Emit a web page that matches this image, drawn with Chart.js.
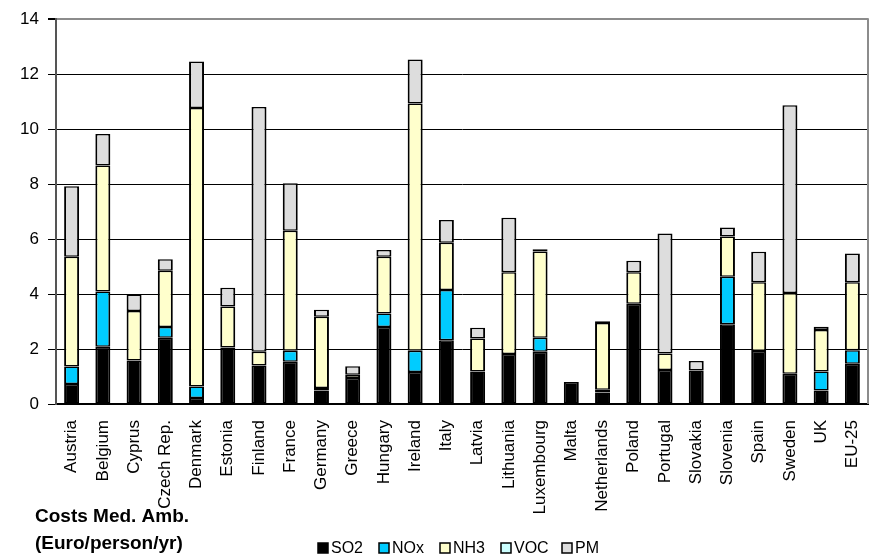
<!DOCTYPE html>
<html>
<head>
<meta charset="utf-8">
<title>Costs Med. Amb.</title>
<script src="https://cdn.jsdelivr.net/npm/chart.js@4.4.1/dist/chart.umd.min.js"></script>
<style>
  html, body { margin: 0; padding: 0; background: #ffffff; }
  canvas { display: block; }
</style>
</head>
<body>
<canvas id="chart" width="870" height="557"></canvas>
<script>
// Countries on the x axis
const categories = ['Austria', 'Belgium', 'Cyprus', 'Czech Rep.', 'Denmark', 'Estonia', 'Finland',
  'France', 'Germany', 'Greece', 'Hungary', 'Ireland', 'Italy', 'Latvia', 'Lithuania',
  'Luxembourg', 'Malta', 'Netherlands', 'Poland', 'Portugal', 'Slovakia', 'Slovenia',
  'Spain', 'Sweden', 'UK', 'EU-25'];

// Cost per pollutant, Euro/person/yr
const so2 = [0.73, 2.08, 1.58, 2.41, 0.22, 2.06, 1.40, 1.54, 0.49, 0.95, 2.80, 1.16, 2.32,
  1.18, 1.82, 1.90, 0.80, 0.42, 3.65, 1.24, 1.22, 2.90, 1.93, 1.10, 0.49, 1.46];
const nox = [0.63, 2.01, 0, 0.39, 0.42, 0, 0, 0.40, 0.09, 0, 0.49, 0.78, 1.83,
  0, 0, 0.51, 0, 0.10, 0, 0, 0, 1.73, 0, 0, 0.69, 0.50];
const nh3 = [4.00, 4.59, 1.80, 2.05, 10.13, 1.49, 0.50, 4.36, 2.59, 0.11, 2.07, 8.99, 1.72,
  1.20, 2.97, 3.14, 0, 2.43, 1.14, 0.60, 0, 1.46, 2.50, 2.94, 1.51, 2.47];
const voc = [0, 0, 0, 0, 0, 0, 0, 0, 0, 0, 0, 0, 0,
  0, 0, 0, 0, 0, 0, 0, 0, 0, 0, 0, 0, 0];
const pm = [2.56, 1.14, 0.60, 0.42, 1.69, 0.68, 8.91, 1.73, 0.26, 0.31, 0.24, 1.60, 0.82,
  0.39, 1.99, 0.08, 0, 0.06, 0.42, 4.36, 0.34, 0.33, 1.11, 6.83, 0.12, 1.05];

const yTicks = [0, 2, 4, 6, 8, 10, 12, 14];
const titleLines = ['Costs Med. Amb.', '(Euro/person/yr)'];

const FONT = "'Liberation Sans', Arial, Helvetica, sans-serif";

const seriesDefs = [
  { label: 'SO2', data: so2, color: '#000000' },
  { label: 'NOx', data: nox, color: '#00CCFF' },
  { label: 'NH3', data: nh3, color: '#FFFFCC' },
  { label: 'VOC', data: voc, color: '#CCFFFF' },
  { label: 'PM',  data: pm,  color: '#DDDDDD' }
];

const datasets = seriesDefs.map(s => ({
  label: s.label,
  data: s.data,
  backgroundColor: s.color,
  borderColor: '#000000',
  borderWidth: { top: 1.5, bottom: 1.5, left: 2, right: 2 },
  borderSkipped: false,
  barPercentage: 0.48,
  categoryPercentage: 1.0,
  stack: 'costs'
}));

// Grey frame on the right, legend row and unit caption under the chart
const framePlugin = {
  id: 'frameAndCaption',
  afterDraw(chart) {
    const ctx = chart.ctx;
    const area = chart.chartArea;
    ctx.save();
    ctx.strokeStyle = '#8c8c8c';
    ctx.lineWidth = 2;
    ctx.beginPath();
    ctx.moveTo(area.right, area.top - 1);
    ctx.lineTo(area.right, area.bottom);
    ctx.stroke();

    // caption
    ctx.fillStyle = '#000000';
    ctx.font = 'bold 19px ' + FONT;
    ctx.textAlign = 'left';
    ctx.textBaseline = 'middle';
    ctx.fillText(titleLines[0], 35, 517);
    ctx.fillText(titleLines[1], 35, 544);

    // legend
    ctx.font = '16px ' + FONT;
    const startX = 318, step = 61, y = 548, box = 10;
    chart.data.datasets.forEach((ds, i) => {
      const x = startX + i * step;
      ctx.fillStyle = ds.backgroundColor;
      ctx.fillRect(x, y - box / 2, box, box);
      ctx.strokeStyle = '#000000';
      ctx.lineWidth = 1.5;
      ctx.strokeRect(x, y - box / 2, box, box);
      ctx.fillStyle = '#000000';
      ctx.fillText(ds.label, x + box + 3, y + 1);
    });
    ctx.restore();
  }
};

new Chart(document.getElementById('chart'), {
  type: 'bar',
  data: { labels: categories, datasets: datasets },
  options: {
    responsive: false,
    animation: false,
    devicePixelRatio: 1,
    layout: { padding: { top: 17, right: 2, bottom: 0, left: 0 } },
    plugins: {
      legend: { display: false },
      tooltip: { enabled: false },
      title: { display: false }
    },
    scales: {
      x: {
        stacked: true,
        afterFit(scale) {
          scale.height = 153;
          scale.paddingLeft = 0;
          scale.paddingRight = 0;
        },
        grid: { display: false, drawTicks: false },
        border: { display: true, color: '#000000', width: 2 },
        ticks: {
          autoSkip: false,
          minRotation: 90,
          maxRotation: 90,
          padding: 16,
          color: '#000000',
          font: { family: FONT, size: 17 }
        }
      },
      y: {
        stacked: true,
        min: yTicks[0],
        max: yTicks[yTicks.length - 1],
        afterFit(scale) { scale.width = 56; },
        afterBuildTicks(scale) { scale.ticks = yTicks.map(v => ({ value: v })); },
        grid: {
          drawTicks: true,
          tickLength: 8,
          tickColor: '#000000',
          color: ctx => (ctx.tick && ctx.tick.value === 14) ? '#8c8c8c' : '#000000',
          lineWidth: ctx => (ctx.tick && ctx.tick.value === 14) ? 2 : 1
        },
        border: { display: true, color: '#555555', width: 2 },
        ticks: {
          padding: 9,
          color: '#000000',
          font: { family: FONT, size: 17 }
        }
      }
    }
  },
  plugins: [framePlugin]
});
</script>
</body>
</html>
